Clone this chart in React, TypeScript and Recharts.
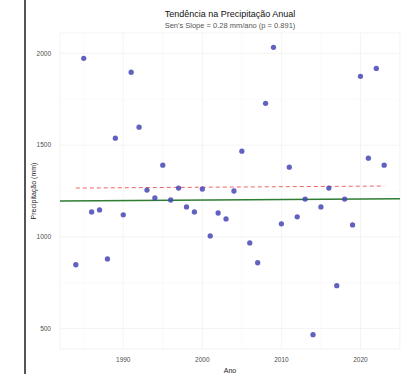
import React from 'react';
import { ComposedChart, Scatter, Line, XAxis, YAxis, ZAxis, CartesianGrid, ReferenceLine, Label } from 'recharts';

const years = [1984,1985,1986,1987,1988,1989,1990,1991,1992,1993,1994,1995,1996,1997,1998,1999,2000,2001,2002,2003,2004,2005,2006,2007,2008,2009,2010,2011,2012,2013,2014,2015,2016,2017,2018,2019,2020,2021,2022,2023];
const precip = [848,1973,1136,1147,880,1538,1120,1897,1598,1255,1212,1391,1201,1266,1163,1136,1261,1005,1130,1098,1250,1467,967,859,1728,2033,1071,1380,1109,1206,467,1163,1266,734,1206,1065,1875,1429,1918,1391];

const olsYears = [1984, 2023];
const olsValues = [1266, 1277];
const senYears = [1982, 2025];
const senValues = [1195, 1208];

const xTicks = [1990, 2000, 2010, 2020];
const xMinor = [1985, 1995, 2005, 2015, 2025];
const yTicks = [500, 1000, 1500, 2000];
const yMinor = [750, 1250, 1750];

const title = 'Tendência na Precipitação Anual';
const subtitle = "Sen's Slope = 0.28 mm/ano (p = 0.891)";

const pointData = years.map((y, i) => ({ ano: y, precip: precip[i] }));
const olsData = olsYears.map((y, i) => ({ ano: y, ols: olsValues[i] }));
const senData = senYears.map((y, i) => ({ ano: y, sen: senValues[i] }));

const font = '"Liberation Sans", Arial, sans-serif';

export default function App() {
  return (
    <div style={{ position: 'absolute', left: 0, top: 0, width: 408, height: 374, background: '#fff', fontFamily: font }}>
      <div style={{ position: 'absolute', left: 24, top: 0, width: 2, height: 374, background: '#555' }} />
      <div style={{ position: 'absolute', left: 60, width: 340, top: 9, textAlign: 'center', fontSize: 9, color: '#111' }}>{title}</div>
      <div style={{ position: 'absolute', left: 60, width: 340, top: 21, textAlign: 'center', fontSize: 7.5, color: '#555' }}>{subtitle}</div>
      <ComposedChart width={408} height={374} margin={{ top: 33, right: 8, bottom: 0, left: 0 }}>
        <CartesianGrid stroke="#ececec" strokeWidth={0.6} vertical={true} horizontal={true} />
        {xMinor.map((v) => (
          <ReferenceLine key={'xm' + v} x={v} stroke="#f4f4f4" strokeWidth={0.5} ifOverflow="hidden" />
        ))}
        {yMinor.map((v) => (
          <ReferenceLine key={'ym' + v} y={v} stroke="#f4f4f4" strokeWidth={0.5} />
        ))}
        <XAxis
          type="number"
          dataKey="ano"
          domain={[1982, 2025]}
          ticks={xTicks}
          allowDataOverflow
          axisLine={false}
          tickLine={false}
          height={25}
          tick={{ fontSize: 6.5, fill: '#4d4d4d', fontFamily: font }}
          tickMargin={2}
        >
          <Label value="Ano" position="insideBottom" offset={1} style={{ fontSize: 7, fill: '#222', fontFamily: font }} />
        </XAxis>
        <YAxis
          type="number"
          domain={[389, 2111]}
          ticks={yTicks}
          allowDataOverflow
          axisLine={false}
          tickLine={false}
          width={60}
          tick={{ fontSize: 6.5, fill: '#4d4d4d', fontFamily: font }}
          tickMargin={3}
        >
          <Label value="Precipitação (mm)" angle={-90} position="insideLeft" offset={34} style={{ textAnchor: 'middle', fontSize: 7, fill: '#222', fontFamily: font }} />
        </YAxis>
        <ZAxis range={[22, 22]} />
        <Line data={senData} dataKey="sen" stroke="#2e7d32" strokeWidth={1.5} dot={false} isAnimationActive={false} />
        <Line data={olsData} dataKey="ols" stroke="#ee6666" strokeWidth={1} strokeDasharray="4 3" dot={false} isAnimationActive={false} />
        <Scatter data={pointData} dataKey="precip" fill="#4545b5" fillOpacity={0.85} shape="circle" isAnimationActive={false} />
      </ComposedChart>
    </div>
  );
}
